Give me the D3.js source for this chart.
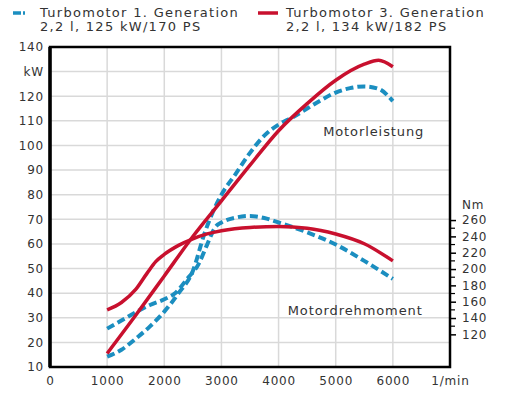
<!DOCTYPE html>
<html>
<head>
<meta charset="utf-8">
<script src="https://cdn.jsdelivr.net/npm/d3@7"></script>
<style>
  body { margin: 0; background: #fff; }
  text { font-family: "DejaVu Sans", sans-serif; fill: #333; }
</style>
</head>
<body>
<div id="chart"></div>
<script>
// Leistung in kW, Drehmoment in Nm, Drehzahl in 1/min
const gen1PowerRpm = [1000, 1250, 1500, 1750, 2000, 2250, 2500, 2700, 2850, 3000, 3250, 3500, 3750, 4000, 4250, 4500, 4750, 5000, 5250, 5500, 5750, 6000]
const gen1PowerKw  = [14.2, 17, 21.5, 26.5, 32.5, 40, 49, 64, 73, 80, 88.5, 97, 104, 108.5, 111.5, 115, 118.5, 121.5, 123.3, 124, 123, 118]

const gen1TorqueRpm = [1000, 1250, 1500, 1750, 2000, 2200, 2400, 2600, 2750, 2900, 3000, 3250, 3500, 3750, 4000, 4500, 5000, 5500, 6000]
const gen1TorqueNm  = [127, 137, 147, 156, 163, 171, 188, 206, 230, 252, 257, 263, 265, 262.5, 257, 245, 230, 210, 188]

const gen3PowerRpm = [1000, 1500, 2000, 2500, 3000, 3500, 4000, 4500, 5000, 5500, 5750, 6000]
const gen3PowerKw  = [15.5, 31, 47, 63, 77.5, 92, 106, 117, 126.5, 133, 134.6, 132]

const gen3TorqueRpm = [1000, 1250, 1500, 1700, 1850, 2000, 2250, 2500, 2750, 3000, 3500, 4000, 4500, 5000, 5500, 6000]
const gen3TorqueNm  = [150, 159, 175, 195, 209, 218, 229, 237, 243, 247, 251, 252, 250, 243, 231, 210]

const xTicks   = [0, 1000, 2000, 3000, 4000, 5000, 6000]
const kwTicks  = [10, 20, 30, 40, 50, 60, 70, 80, 90, 100, 110, 120, 130, 140]
const nmTicks  = [120, 140, 160, 180, 200, 220, 240, 260]
const nmMinor  = [130, 150, 170, 190, 210, 230, 250]

const legendNames = ['Turbomotor 1. Generation', 'Turbomotor 3. Generation']
const legendSubs  = ['2,2 l, 125 kW/170 PS', '2,2 l, 134 kW/182 PS']

const blue = '#1b8ec0'
const red  = '#c8102e'

const width = 516, height = 393
const margin = { top: 47, right: 66, bottom: 26, left: 50 }

const svg = d3.select('#chart')
  .append('svg')
  .attr('width', width)
  .attr('height', height)

const x = d3.scaleLinear()
  .domain([0, 7000])
  .range([margin.left, width - margin.right])

const yKw = d3.scaleLinear()
  .domain([10, 140])
  .range([height - margin.bottom, margin.top])

const yNm = d3.scaleLinear()
  .domain([80, 472])
  .range([height - margin.bottom, margin.top])

// gitter
svg.append('g')
  .attr('stroke', '#d9d9d9')
  .attr('stroke-width', 1.5)
  .call(g => g.selectAll('.v').data(xTicks.slice(1)).join('line')
    .attr('x1', d => x(d)).attr('x2', d => x(d))
    .attr('y1', yKw(140)).attr('y2', yKw(10)))
  .call(g => g.selectAll('.h').data(kwTicks.slice(1, -1)).join('line')
    .attr('x1', x(0)).attr('x2', x(7000))
    .attr('y1', d => yKw(d)).attr('y2', d => yKw(d)))

// kurven
const line = d3.line().curve(d3.curveMonotoneX)

function drawCurve(rpm, vals, yScale, color, dashed){
  svg.append('path')
    .attr('d', line(rpm.map((r, i) => [x(r), yScale(vals[i])])))
    .attr('fill', 'none')
    .attr('stroke', color)
    .attr('stroke-width', dashed ? 4 : 3.5)
    .attr('stroke-dasharray', dashed ? '8,4' : null)
}

drawCurve(gen1TorqueRpm, gen1TorqueNm, yNm, blue, true)
drawCurve(gen1PowerRpm, gen1PowerKw, yKw, blue, true)
drawCurve(gen3TorqueRpm, gen3TorqueNm, yNm, red, false)
drawCurve(gen3PowerRpm, gen3PowerKw, yKw, red, false)

// rahmen
svg.append('rect')
  .attr('x', x(0)).attr('y', yKw(140))
  .attr('width', x(7000) - x(0))
  .attr('height', yKw(10) - yKw(140))
  .attr('fill', 'none')
  .attr('stroke', '#000')
  .attr('stroke-width', 2.5)
svg.append('line')
  .attr('x1', x(0)).attr('x2', x(0))
  .attr('y1', yKw(140)).attr('y2', yKw(10))
  .attr('stroke', '#000')
  .attr('stroke-width', 3.5)

// achsen
const xAxis = svg.append('g')
  .attr('transform', `translate(0, ${yKw(10)})`)
  .call(d3.axisBottom(x).tickValues([...xTicks, 7000]).tickSize(0).tickPadding(9)
    .tickFormat(d => d === 7000 ? '1/min' : d))
xAxis.select('.domain').remove()

const yAxis = svg.append('g')
  .attr('transform', `translate(${x(0) - 6}, 0)`)
  .call(d3.axisLeft(yKw).tickValues(kwTicks).tickSize(0).tickPadding(0)
    .tickFormat(d => d === 130 ? 'kW' : d))
yAxis.select('.domain').remove()

const nmAxis = svg.append('g')
  .attr('transform', `translate(${x(7000)}, 0)`)
  .call(d3.axisRight(yNm).tickValues(nmTicks).tickSize(6).tickPadding(6))
nmAxis.select('.domain').remove()
nmAxis.selectAll('line').attr('stroke', '#000').attr('stroke-width', 1.5)

svg.append('g')
  .selectAll('line')
  .data(nmMinor)
  .join('line')
    .attr('x1', x(7000)).attr('x2', x(7000) + 5)
    .attr('y1', d => yNm(d)).attr('y2', d => yNm(d))
    .attr('stroke', '#000')
    .attr('stroke-width', 1.2)

svg.selectAll('.tick text')
  .attr('font-size', '12px')
  .attr('font-family', 'DejaVu Sans')
  .attr('letter-spacing', '0.8px')
  .attr('fill', '#2a2a2a')

svg.append('text')
  .attr('x', x(7000) + 12)
  .attr('y', yNm(260) - 11)
  .attr('font-size', '12px')
  .attr('letter-spacing', '0.8px')
  .text('Nm')

// beschriftung
svg.append('text')
  .attr('x', x(4780)).attr('y', yKw(103.8))
  .attr('font-size', '13px')
  .attr('letter-spacing', '0.9px')
  .text('Motorleistung')

svg.append('text')
  .attr('x', x(4160)).attr('y', yKw(31.2))
  .attr('font-size', '13px')
  .attr('letter-spacing', '0.9px')
  .text('Motordrehmoment')

// legende
const legendX = [13, 258]
const legend = svg.append('g')
legendNames.forEach((name, i) => {
  legend.append('line')
    .attr('x1', legendX[i]).attr('x2', legendX[i] + (i ? 20 : 12))
    .attr('y1', 13).attr('y2', 13)
    .attr('stroke', i ? red : blue)
    .attr('stroke-width', 3.5)
    .attr('stroke-dasharray', i ? null : '8,2')
  legend.append('text')
    .attr('x', legendX[i] + (i ? 28 : 27)).attr('y', 17)
    .attr('font-size', '13px')
    .attr('letter-spacing', '1.3px')
    .text(name)
  legend.append('text')
    .attr('x', legendX[i] + (i ? 28 : 27)).attr('y', 31)
    .attr('font-size', '13px')
    .attr('letter-spacing', '1.3px')
    .text(legendSubs[i])
})
</script>
</body>
</html>
